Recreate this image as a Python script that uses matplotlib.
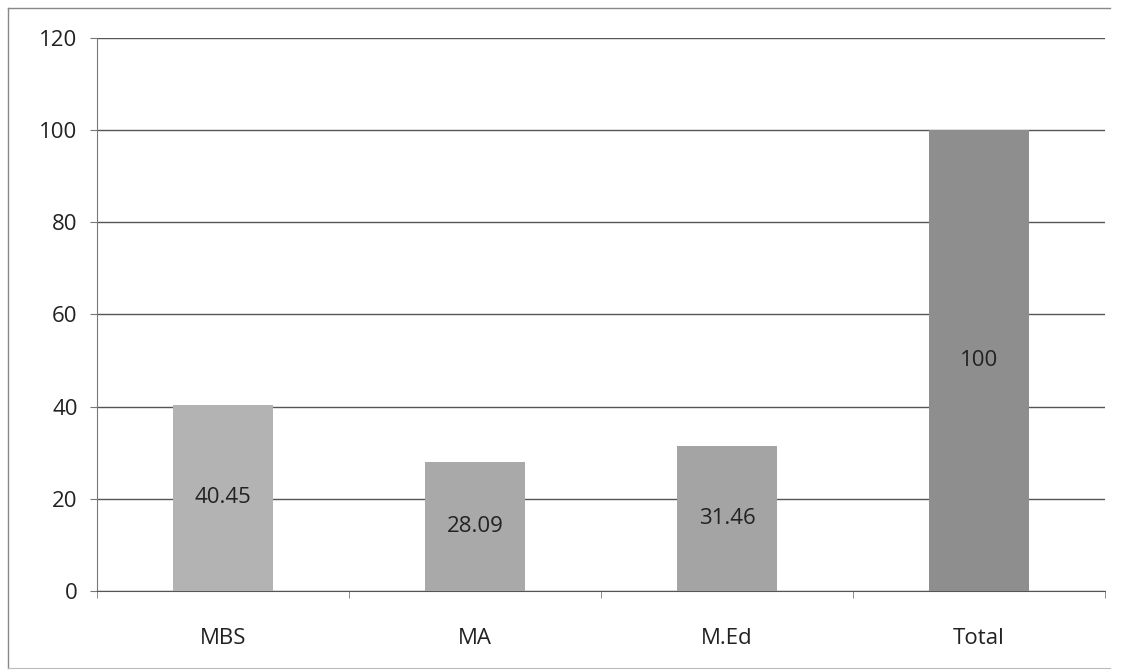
import matplotlib
matplotlib.use("Agg")
import matplotlib.pyplot as plt

categories = ["MBS", "MA", "M.Ed", "Total"]
values = [40.45, 28.09, 31.46, 100]
value_labels = ["40.45", "28.09", "31.46", "100"]
colors = ["#b3b3b3", "#a9a9a9", "#a4a4a4", "#8e8e8e"]

plt.rcParams['font.family'] = ['Open Sans', 'DejaVu Sans']

W, H = 1128, 671
fig = plt.figure(figsize=(W / 100, H / 100), dpi=100)
ax = fig.add_axes([97 / W, 1 - 591 / H, (1105 - 97) / W, (591 - 38) / H])

x = list(range(len(categories)))
ax.bar(x, values, width=0.4, color=colors, zorder=3)
for xi, v, lab in zip(x, values, value_labels):
    ax.text(xi, v / 2, lab, ha="center", va="center", fontsize=16, color="#222222", zorder=4)

ax.set_xlim(-0.5, len(categories) - 0.5)
ax.set_ylim(0, 120)
ax.set_yticks(range(0, 121, 20))
ax.yaxis.grid(True, color="#555555", linewidth=1.0, zorder=0)
ax.set_xticks(x)
ax.set_xticklabels(categories, fontsize=16)
ax.set_xticks([i + 0.5 for i in range(-1, len(categories))], minor=True)
ax.tick_params(axis="x", which="major", length=0, pad=27)
ax.tick_params(axis="x", which="minor", length=5, color="#777777", direction="out")
ax.tick_params(axis="y", length=5, color="#777777", labelsize=16, pad=9)
for t in ax.get_yticklabels():
    t.set_color("#222222")
for t in ax.get_xticklabels():
    t.set_color("#222222")
for s in ["top", "right"]:
    ax.spines[s].set_visible(False)
ax.spines["left"].set_color("#777777")
ax.spines["bottom"].set_color("#555555")

# outer chart border (top, left, bottom)
fig.add_artist(plt.Line2D([8 / W, 8 / W], [1 - 8 / H, 1 - 668 / H], color="#888888", lw=1.0))
fig.add_artist(plt.Line2D([8 / W, 1110 / W], [1 - 8 / H, 1 - 8 / H], color="#888888", lw=1.0))
fig.add_artist(plt.Line2D([8 / W, 1110 / W], [1 - 668 / H, 1 - 668 / H], color="#bbbbbb", lw=0.8))

fig.savefig("out.png", dpi=100)
